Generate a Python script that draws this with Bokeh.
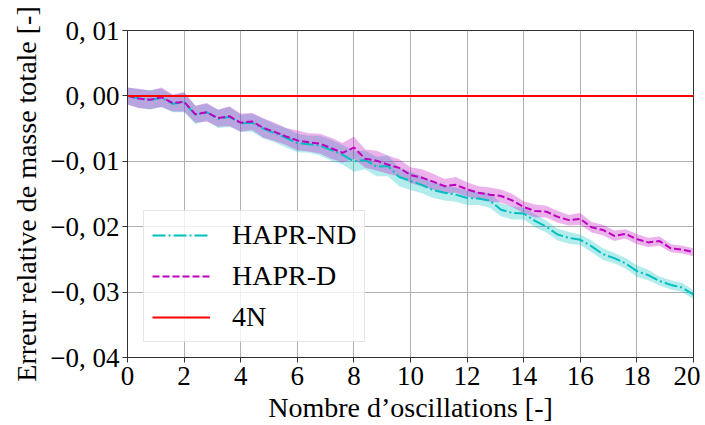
from bokeh.plotting import figure
from bokeh.models import FixedTicker, Legend, LegendItem, Range1d
from bokeh.embed import file_html
from bokeh.resources import INLINE

# ---- data ----
x_osc = [0.0, 0.4, 0.8, 1.2, 1.6, 2.0, 2.4, 2.8, 3.2, 3.6, 4.0, 4.4, 4.8, 5.2, 5.6,
         6.0, 6.4, 6.8, 7.2, 7.6, 8.0, 8.4, 8.8, 9.2, 9.6, 10.0, 10.4, 10.8, 11.2,
         11.6, 12.0, 12.4, 12.8, 13.2, 13.6, 14.0, 14.4, 14.8, 15.2, 15.6, 16.0,
         16.4, 16.8, 17.2, 17.6, 18.0, 18.4, 18.8, 19.2, 19.6, 20.0]

hapr_d = [0.0, -0.0004, -0.0006, -0.0002, -0.0011, -0.0009, -0.0028, -0.0025, -0.0034,
          -0.0031, -0.0041, -0.0039, -0.0049, -0.0055, -0.0062, -0.0068, -0.0071,
          -0.0073, -0.0080, -0.0087, -0.0079, -0.0096, -0.0099, -0.0105, -0.0110,
          -0.0121, -0.0125, -0.0131, -0.0138, -0.0136, -0.0143, -0.0148, -0.0151,
          -0.0153, -0.0160, -0.0170, -0.0176, -0.0177, -0.0185, -0.0190, -0.0188,
          -0.0201, -0.0205, -0.0214, -0.0211, -0.0219, -0.0224, -0.0222, -0.0233,
          -0.0235, -0.0239]
hapr_d_spread = [0.0013, 0.0015, 0.0014, 0.0015, 0.0013, 0.0015, 0.0013, 0.0014, 0.0013,
                 0.0015, 0.0014, 0.0013, 0.0015, 0.0014, 0.0013, 0.0015, 0.0014, 0.0015,
                 0.0016, 0.0015, 0.0017, 0.0014, 0.0015, 0.0014, 0.0013, 0.0012, 0.0013,
                 0.0012, 0.0011, 0.0012, 0.0011, 0.0010, 0.0011, 0.0010, 0.0010, 0.0009,
                 0.0010, 0.0009, 0.0009, 0.0008, 0.0009, 0.0008, 0.0008, 0.0008, 0.0007,
                 0.0008, 0.0007, 0.0007, 0.0006, 0.0006, 0.0006]

hapr_nd = [0.0, -0.0004, -0.0006, -0.0003, -0.0012, -0.0010, -0.0029, -0.0025, -0.0035,
           -0.0032, -0.0042, -0.0041, -0.0050, -0.0057, -0.0064, -0.0072, -0.0074,
           -0.0076, -0.0083, -0.0090, -0.0100, -0.0098, -0.0108, -0.0107, -0.0124,
           -0.0130, -0.0136, -0.0144, -0.0148, -0.0151, -0.0156, -0.0157, -0.0160,
           -0.0174, -0.0179, -0.0180, -0.0191, -0.0200, -0.0212, -0.0217, -0.0220,
           -0.0230, -0.0242, -0.0248, -0.0256, -0.0268, -0.0274, -0.0283, -0.0289,
           -0.0293, -0.0304]
hapr_nd_spread = [0.0013, 0.0014, 0.0015, 0.0014, 0.0013, 0.0015, 0.0014, 0.0013, 0.0014,
                  0.0015, 0.0013, 0.0014, 0.0015, 0.0014, 0.0015, 0.0014, 0.0013, 0.0015,
                  0.0016, 0.0015, 0.0016, 0.0014, 0.0015, 0.0016, 0.0014, 0.0014, 0.0013,
                  0.0012, 0.0012, 0.0011, 0.0011, 0.0010, 0.0011, 0.0010, 0.0010, 0.0009,
                  0.0010, 0.0009, 0.0009, 0.0009, 0.0008, 0.0009, 0.0009, 0.0008, 0.0008,
                  0.0009, 0.0008, 0.0007, 0.0007, 0.0007, 0.0007]

ref_4n = [0.0 for _ in x_osc]

y_ticks = [0.01, 0.0, -0.01, -0.02, -0.03, -0.04]
y_tick_labels = ["0, 01", "0, 00", "\u22120, 01", "\u22120, 02", "\u22120, 03", "\u22120, 04"]
x_ticks = [0, 2, 4, 6, 8, 10, 12, 14, 16, 18, 20]

series_names = ["HAPR-ND", "HAPR-D", "4N"]

FONT = "Liberation Serif"

p = figure(width=700, height=425, output_backend="svg", toolbar_location=None,
           x_range=Range1d(0, 20), y_range=Range1d(-0.04, 0.01),
           min_border_left=127, min_border_right=7, min_border_top=30, min_border_bottom=63)

cyan = "#00bfbf"
mag = "#bf00bf"

nd_lo = [m - s for m, s in zip(hapr_nd, hapr_nd_spread)]
nd_hi = [m + s for m, s in zip(hapr_nd, hapr_nd_spread)]
d_lo = [m - s for m, s in zip(hapr_d, hapr_d_spread)]
d_hi = [m + s for m, s in zip(hapr_d, hapr_d_spread)]

p.varea(x=x_osc, y1=nd_lo, y2=nd_hi, fill_color=cyan, fill_alpha=0.3)
p.varea(x=x_osc, y1=d_lo, y2=d_hi, fill_color=mag, fill_alpha=0.3)

r_nd = p.line(x_osc, hapr_nd, line_color=cyan, line_width=2, line_dash="13 3 2 3")
r_d = p.line(x_osc, hapr_d, line_color=mag, line_width=2, line_dash="7 3")
r_4n = p.line(x_osc, ref_4n, line_color="#ff0000", line_width=2)

# axes
for ax in (p.xaxis[0], p.yaxis[0]):
    ax.major_label_text_font = FONT
    ax.major_label_text_font_size = "27px"
    ax.major_label_text_color = "#000000"
    ax.axis_label_text_font = FONT
    ax.axis_label_text_font_size = "28px"
    ax.axis_label_text_font_style = "normal"
    ax.axis_label_text_color = "#000000"
    ax.axis_line_color = "#333333"
    ax.major_tick_line_color = "#333333"
    ax.major_tick_out = 5
    ax.major_tick_in = 0
    ax.minor_tick_line_color = None

p.xaxis.ticker = FixedTicker(ticks=x_ticks)
p.yaxis.ticker = FixedTicker(ticks=y_ticks)
p.yaxis.major_label_overrides = {t: l for t, l in zip(y_ticks, y_tick_labels)}
p.xaxis.axis_label = "Nombre d\u2019oscillations [-]"
p.yaxis.axis_label = "Erreur relative de masse totale [-]"
p.xaxis.axis_label_standoff = 4
p.yaxis.axis_label_standoff = 5
p.xaxis.major_label_standoff = 4
p.yaxis.major_label_standoff = 3

p.xgrid.grid_line_color = "#b0b0b0"
p.ygrid.grid_line_color = "#b0b0b0"
p.xgrid.ticker = FixedTicker(ticks=x_ticks)
p.ygrid.ticker = FixedTicker(ticks=y_ticks)

p.outline_line_color = "#333333"
p.outline_line_width = 1
p.background_fill_color = "white"
p.border_fill_color = "white"

legend = Legend(items=[LegendItem(label=series_names[0], renderers=[r_nd]),
                       LegendItem(label=series_names[1], renderers=[r_d]),
                       LegendItem(label=series_names[2], renderers=[r_4n])],
                location=(16, 15))
legend.label_text_font = FONT
legend.label_text_font_size = "28px"
legend.label_text_color = "#000000"
legend.glyph_width = 58
legend.glyph_height = 30
legend.label_height = 30
legend.label_standoff = 22
legend.spacing = 9
legend.padding = 8
legend.margin = 0
legend.border_line_color = "#cccccc"
legend.background_fill_color = "white"
legend.background_fill_alpha = 0.8
p.add_layout(legend, "center")

open("out.html", "w").write(file_html(p, INLINE))
